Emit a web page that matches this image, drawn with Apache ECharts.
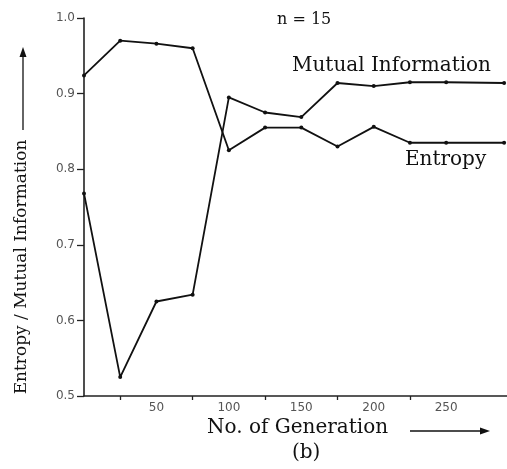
<!DOCTYPE html>
<html>
<head>
<meta charset="utf-8">
<script src="https://cdn.jsdelivr.net/npm/echarts@6/dist/echarts.min.js"></script>
<style>
  html, body { margin: 0; padding: 0; background: #fff; }
  #chart { width: 507px; height: 469px; }
</style>
</head>
<body>
<div id="chart"></div>
<script>
/* ---------- data ---------- */
const generations = [0, 25, 50, 75, 100, 125, 150, 175, 200, 225, 250, 290];
const entropy     = [0.924, 0.970, 0.966, 0.960, 0.825, 0.855, 0.855, 0.830, 0.856, 0.835, 0.835, 0.835];
const mutualInfo  = [0.768, 0.525, 0.625, 0.634, 0.895, 0.875, 0.869, 0.914, 0.910, 0.915, 0.915, 0.914];
const xTickValues  = [25, 75, 125, 175, 225];
const xLabelValues = [50, 100, 150, 200, 250];

const SERIF = "'DejaVu Serif', serif";
const INK = "#111";

const pairs = (ys) => generations.map((g, i) => [g, ys[i]]);

const lineSeries = (name, ys) => ({
    name,
    type: "line",
    data: pairs(ys),
    symbol: "circle",
    symbolSize: 4,
    itemStyle: { color: INK },
    lineStyle: { color: INK, width: 1.8 },
    animation: false,
});

/* arrow helper: shaft + head, used for the axis-title arrows */
function arrow(x1, y1, x2, y2) {
    const ang = Math.atan2(y2 - y1, x2 - x1);
    const L = 10, W = 3.5;
    const bx = x2 - L * Math.cos(ang), by = y2 - L * Math.sin(ang);
    const px = -Math.sin(ang) * W, py = Math.cos(ang) * W;
    return [
        { type: "line", shape: { x1, y1, x2: bx, y2: by }, style: { stroke: INK, lineWidth: 1.3 } },
        { type: "polygon", shape: { points: [[x2, y2], [bx + px, by + py], [bx - px, by - py]] },
          style: { fill: INK } },
    ];
}

const labelFont = {
    color: "#555",
    fontSize: 12,
    fontFamily: "'DejaVu Sans', sans-serif",
};

const chart = echarts.init(document.getElementById("chart"));
chart.setOption({
    backgroundColor: "#fff",
    animation: false,
    grid: { left: 84, right: 0, top: 18, bottom: 73 },
    xAxis: {
        type: "value",
        min: 0,
        max: 292,
        axisLine: { show: true, lineStyle: { color: "#222", width: 1.6 } },
        axisTick: { show: true, length: 4, customValues: xTickValues, lineStyle: { color: "#222", width: 1.3 } },
        axisLabel: { customValues: xLabelValues, margin: 6, ...labelFont },
        splitLine: { show: false },
    },
    yAxis: {
        type: "value",
        min: 0.5,
        max: 1.0,
        interval: 0.1,
        axisLine: { show: true, lineStyle: { color: "#222", width: 1.6 } },
        axisTick: { show: true, length: 7, lineStyle: { color: "#222", width: 1.3 } },
        axisLabel: { margin: 9, formatter: (v) => v.toFixed(1), ...labelFont },
        splitLine: { show: false },
    },
    series: [
        lineSeries("Entropy", entropy),
        lineSeries("Mutual Information", mutualInfo),
    ],
    graphic: [
        { type: "text", left: 277, top: 12,
          style: { text: "n = 15", font: `16px ${SERIF}`, fill: INK } },
        { type: "text", left: 292, top: 56,
          style: { text: "Mutual Information", font: `20px ${SERIF}`, fill: INK } },
        { type: "text", left: 405, top: 150,
          style: { text: "Entropy", font: `20px ${SERIF}`, fill: INK } },
        { type: "text", left: 207, top: 418,
          style: { text: "No. of Generation", font: `20px ${SERIF}`, fill: INK } },
        { type: "text", left: 292, top: 443,
          style: { text: "(b)", font: `20px ${SERIF}`, fill: INK } },
        { type: "text", x: 22, y: 267, rotation: Math.PI / 2,
          style: { text: "Entropy / Mutual Information", font: `17px ${SERIF}`, fill: INK,
                   align: "center", verticalAlign: "middle" } },
        ...arrow(410, 431, 490, 431),
        ...arrow(23, 130, 23, 47),
    ],
});
</script>
</body>
</html>
